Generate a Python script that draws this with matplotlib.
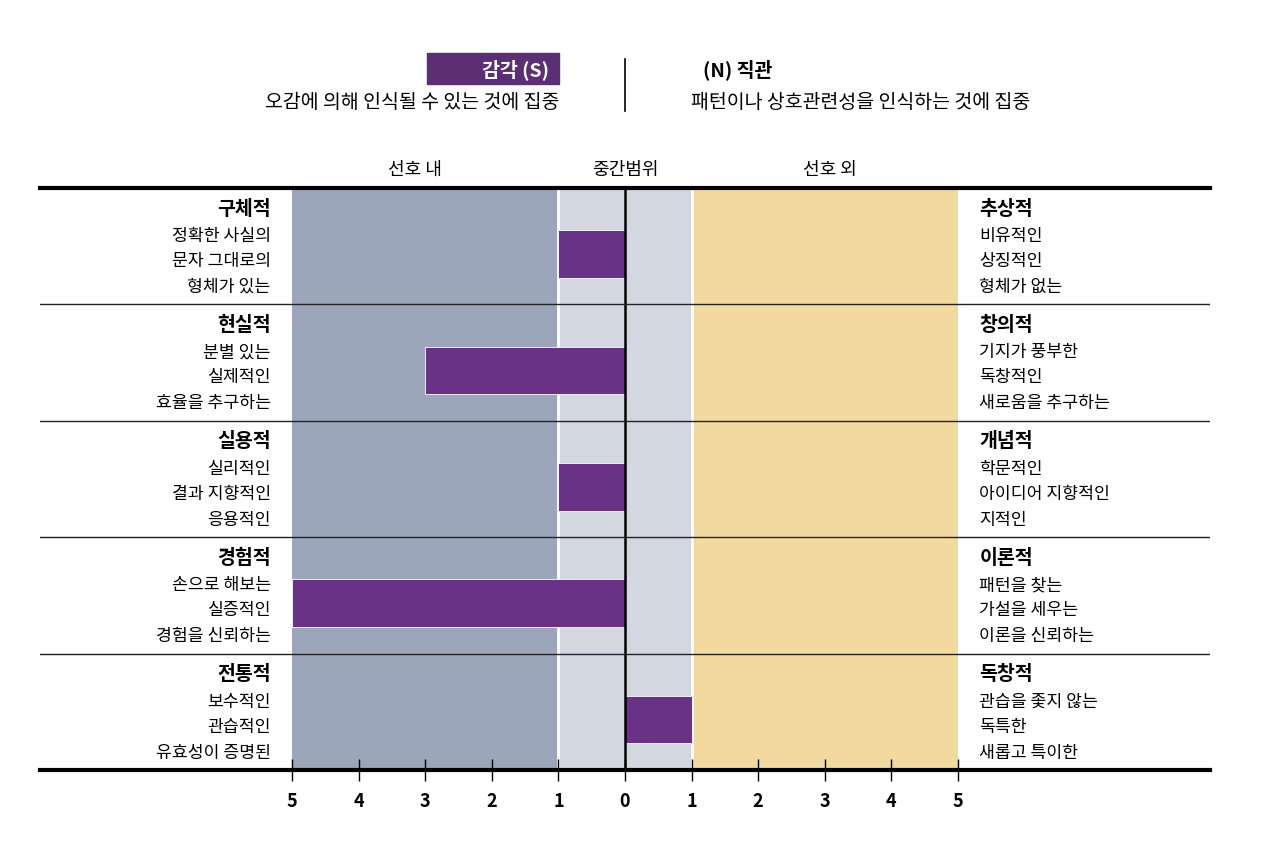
import numpy as np
import matplotlib
matplotlib.use("Agg")
import matplotlib.pyplot as plt
from matplotlib.patches import Rectangle

plt.rcParams['font.family'] = ['Noto Sans CJK KR', 'DejaVu Sans']

# ---------------------------------------------------------------------------
# Data
# ---------------------------------------------------------------------------
s_titles = ['구체적', '현실적', '실용적', '경험적', '전통적']
s_descs = [['정확한 사실의', '문자 그대로의', '형체가 있는'],
           ['분별 있는', '실제적인', '효율을 추구하는'],
           ['실리적인', '결과 지향적인', '응용적인'],
           ['손으로 해보는', '실증적인', '경험을 신뢰하는'],
           ['보수적인', '관습적인', '유효성이 증명된']]
n_titles = ['추상적', '창의적', '개념적', '이론적', '독창적']
n_descs = [['비유적인', '상징적인', '형체가 없는'],
           ['기지가 풍부한', '독창적인', '새로움을 추구하는'],
           ['학문적인', '아이디어 지향적인', '지적인'],
           ['패턴을 찾는', '가설을 세우는', '이론을 신뢰하는'],
           ['관습을 좇지 않는', '독특한', '새롭고 특이한']]
scores = [-1, -3, -1, -5, 1]     # negative = S side, positive = N side
tick_vals = [-5, -4, -3, -2, -1, 0, 1, 2, 3, 4, 5]
tick_labels = ['5', '4', '3', '2', '1', '0', '1', '2', '3', '4', '5']

PURPLE = '#693287'
DARK_BAND = '#9BA6BA'
MID_BAND = '#D3D7E0'
YELLOW_BAND = '#F2DA9E'

W, H = 1280, 862
fig = plt.figure(figsize=(W / 100, H / 100), dpi=100)
ax = fig.add_axes([40 / W, 1 - 771 / H, 1170 / W, (771 - 189) / H])

n_rows = len(s_titles)
ax.set_xlim(-8.784, 8.784)
ax.set_ylim(n_rows, 0)

# background bands
ax.axvspan(-5, -1, color=DARK_BAND, lw=0, zorder=0)
ax.axvspan(-1, 1, color=MID_BAND, lw=0, zorder=0)
ax.axvspan(1, 5, color=YELLOW_BAND, lw=0, zorder=0)
for xv in (-1, 1):
    ax.axvline(xv, color='white', lw=2, zorder=1)

# bars
bar_h = 0.41
bar_c = 0.567
for i, sc in enumerate(scores):
    ax.barh(i + bar_c, sc, left=0, height=bar_h, color=PURPLE,
            edgecolor='white', lw=0.6, zorder=2)

ax.axvline(0, color='black', lw=1.8, zorder=3)

# row separators
for i in range(1, n_rows):
    ax.axhline(i, color='#222222', lw=1.0, zorder=4)

# row texts
offsets = [0.172, 0.404, 0.619, 0.842]
for i in range(n_rows):
    ax.text(-5.32, i + offsets[0], s_titles[i], ha='right', va='center',
            fontsize=14, fontweight='bold', zorder=5)
    ax.text(5.32, i + offsets[0], n_titles[i], ha='left', va='center',
            fontsize=14, fontweight='bold', zorder=5)
    for k in range(3):
        ax.text(-5.32, i + offsets[k + 1], s_descs[i][k], ha='right',
                va='center', fontsize=12.4, zorder=5)
        ax.text(5.32, i + offsets[k + 1], n_descs[i][k], ha='left',
                va='center', fontsize=12.4, zorder=5)

# frame: thick top/bottom only
for side in ('left', 'right'):
    ax.spines[side].set_visible(False)
for side in ('top', 'bottom'):
    ax.spines[side].set_linewidth(3)
    ax.spines[side].set_zorder(6)

ax.set_yticks([])
ax.set_xticks(tick_vals)
ax.set_xticklabels(tick_labels, fontsize=13, fontweight='bold')
ax.tick_params(axis='x', direction='inout', length=16, width=1,
               pad=7, color='black')

# header
fig.patches.append(Rectangle((427 / W, 1 - 85 / H), 132 / W, 31 / H,
                             transform=fig.transFigure, color='#5C2F74',
                             zorder=1))
fig.text(549 / W, 1 - 70 / H, '감각 (S)', color='white', ha='right',
         va='center', fontsize=14, fontweight='bold')
fig.text(559 / W, 1 - 102 / H, '오감에 의해 인식될 수 있는 것에 집중',
         ha='right', va='center', fontsize=14)
fig.text(703 / W, 1 - 70 / H, '(N) 직관', ha='left', va='center',
         fontsize=14, fontweight='bold')
fig.text(691 / W, 1 - 102 / H, '패턴이나 상호관련성을 인식하는 것에 집중',
         ha='left', va='center', fontsize=14)
fig.add_artist(plt.Line2D([625 / W, 625 / W], [1 - 60 / H, 1 - 112 / H],
                          transform=fig.transFigure, color='black', lw=1.2))

fig.text(415 / W, 1 - 170 / H, '선호 내', ha='center', va='center',
         fontsize=13)
fig.text(625 / W, 1 - 170 / H, '중간범위', ha='center', va='center',
         fontsize=13)
fig.text(830 / W, 1 - 170 / H, '선호 외', ha='center', va='center',
         fontsize=13)

fig.savefig('out.png', dpi=100)
